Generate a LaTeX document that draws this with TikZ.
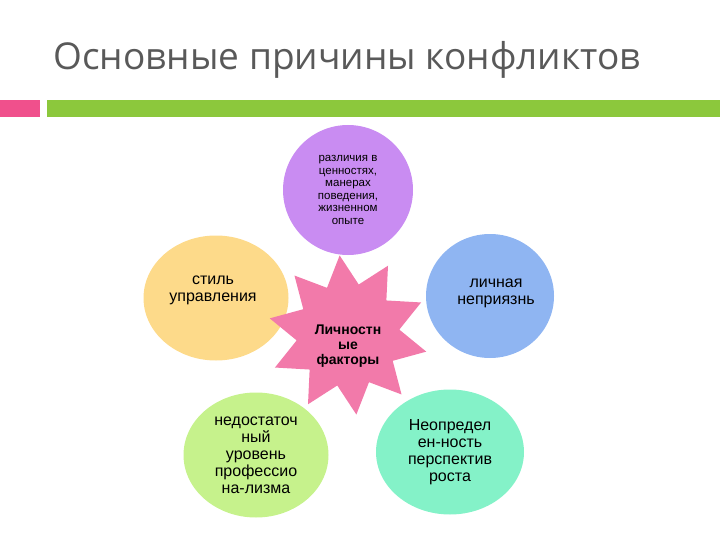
\documentclass[tikz,border=0pt]{standalone}
\usepackage{fontspec}
\setmainfont{Liberation Sans}
\newfontfamily\titlefont{Open Sans}
\usetikzlibrary{shapes.geometric}
\definecolor{titlegray}{HTML}{595959}
\definecolor{cpurple}{HTML}{C98CF2}
\definecolor{cyellow}{HTML}{FDDA8A}
\definecolor{cblue}{HTML}{8FB5F2}
\definecolor{cgreen}{HTML}{C6F28C}
\definecolor{caqua}{HTML}{84F2C8}
\definecolor{cpink}{HTML}{F27AAA}
\definecolor{barpink}{HTML}{F0508C}
\definecolor{bargreen}{HTML}{8CC83C}
\tikzset{
  blob/.style={ellipse, minimum width=#1, align=center, text=black, font=\fontsize{16}{17}\selectfont},
}
\begin{document}
\begin{tikzpicture}[x=1pt,y=-1pt]
\useasboundingbox (0,0) rectangle (720,540);
\node[anchor=west, text=titlegray, font=\titlefont\fontsize{37}{42}\selectfont] (title) at (50,60) {Основные причины конфликтов};
\fill[barpink] (0,100) rectangle (40,117);
\fill[bargreen] (47,100) rectangle (720,117);
\node[blob=130pt, minimum height=130pt, fill=cpurple, font=\fontsize{11.5}{12.5}\selectfont] (top) at (348,190) {различия в\\ценностях,\\манерах\\поведения,\\жизненном\\опыте};
\node[blob=145pt, minimum height=125pt, fill=cyellow] (left) at (216,298) {};
\node[blob=128pt, minimum height=124pt, fill=cblue] (right) at (490,296) {};
\node[star, star points=10, star point ratio=1.55, minimum size=160pt, fill=cpink, rotate=6] (star) at (348,335) {};
\node[blob=145pt, minimum height=125pt, fill=cgreen] (bl) at (256,455) {недостаточ\\ный\\уровень\\профессио\\на-лизма};
\node[blob=148pt, minimum height=125pt, fill=caqua] (br) at (450,452) {Неопредел\\ен-ность\\перспектив\\роста};
\node[align=center, font=\bfseries\fontsize{14}{15}\selectfont] (startext) at (348,346) {Личностн\\ые\\факторы};
\node[align=center, font=\fontsize{16}{17}\selectfont] (lefttext) at (213,290) {стиль\\управления};
\node[align=center, font=\fontsize{16}{17}\selectfont] (righttext) at (496,293) {личная\\неприязнь};
\end{tikzpicture}
\end{document}
